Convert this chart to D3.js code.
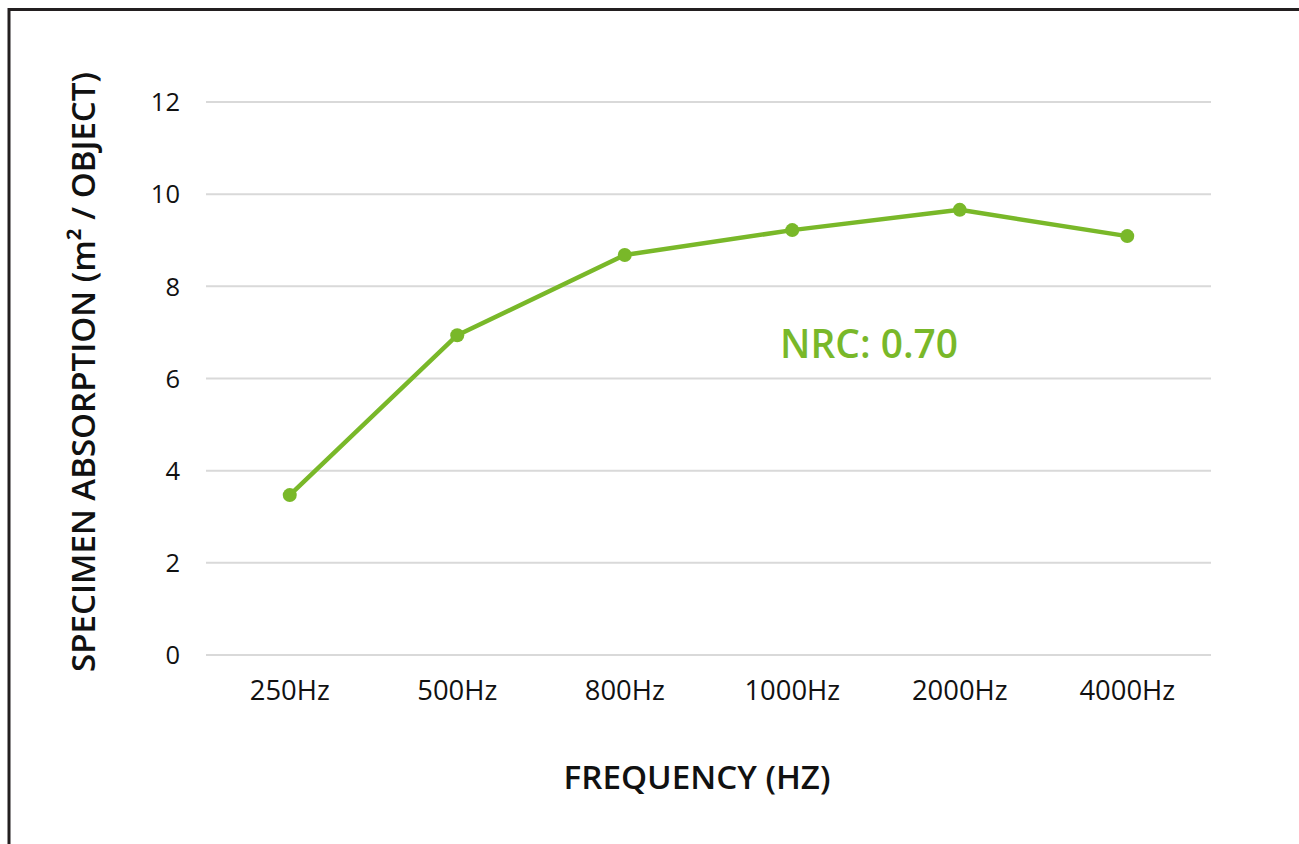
<!DOCTYPE html>
<html>
<head>
<meta charset="utf-8">
<script src="https://cdn.jsdelivr.net/npm/d3@7"></script>
<style>
  html, body { margin: 0; padding: 0; background: #fff; }
  svg { display: block; }
  text { font-family: "Open Sans", "Noto Sans", sans-serif; }
</style>
</head>
<body>
<svg id="chart" width="1299" height="844"></svg>
<script>
const categories = ["250Hz", "500Hz", "800Hz", "1000Hz", "2000Hz", "4000Hz"];
const absorption = [3.47, 6.94, 8.68, 9.22, 9.66, 9.09];
const yTicks = [0, 2, 4, 6, 8, 10, 12];
const nrcLabel = "NRC: 0.70";
const xTitle = "FREQUENCY (HZ)";
const yTitle = "SPECIMEN ABSORPTION (m² / OBJECT)";

(function () {
const green = "#79b829";
const FONT = "'Open Sans', 'Noto Sans', sans-serif";
const svg = d3.select("#chart");

// scale a text's font-size so its rendered width matches a target width
function fitWidth(sel, target) {
  sel.each(function () {
    const n = d3.select(this);
    n.attr("font-size", 100);
    const L = this.getComputedTextLength();
    n.attr("font-size", (100 * target / L).toFixed(2));
  });
}

// frame
svg.append("path")
  .attr("d", "M9,844 L9,9.5 L1299,9.5")
  .attr("fill", "none")
  .attr("stroke", "#231f20")
  .attr("stroke-width", 3);

const pLeft = 206, pRight = 1211, pTop = 102, pBottom = 655;

const x = d3.scaleBand().domain(categories).range([pLeft, pRight]);
const y = d3.scaleLinear().domain([0, 12]).range([pBottom, pTop]);

// gridlines
svg.append("g").selectAll("line").data(yTicks).join("line")
  .attr("x1", pLeft).attr("x2", pRight)
  .attr("y1", d => y(d)).attr("y2", d => y(d))
  .attr("stroke", "#d9d9d9").attr("stroke-width", 2);

// y axis labels
const yAxis = svg.append("g").attr("transform", `translate(${pLeft},0)`)
  .call(d3.axisLeft(y).tickValues(yTicks).tickSize(0).tickPadding(26));
yAxis.select(".domain").remove();
yAxis.selectAll("text")
  .attr("font-family", FONT).attr("font-size", 25.5).attr("fill", "#111")
  .attr("dy", "0.34em");

// x axis labels
const xAxis = svg.append("g").attr("transform", `translate(0,${pBottom})`)
  .call(d3.axisBottom(x).tickSize(0).tickPadding(0));
xAxis.select(".domain").remove();
xAxis.selectAll("text")
  .attr("font-family", FONT).attr("fill", "#111")
  .attr("dy", null).attr("y", 45);
fitWidth(xAxis.selectAll("text").filter(d => d === "250Hz"), 80);
const xfs = xAxis.selectAll("text").filter(d => d === "250Hz").attr("font-size");
xAxis.selectAll("text").attr("font-size", xfs);

// line
const cx = d => x(d.c) + x.bandwidth() / 2;
const data = categories.map((c, i) => ({ c, v: absorption[i] }));
svg.append("path").datum(data)
  .attr("fill", "none").attr("stroke", green).attr("stroke-width", 4.5)
  .attr("stroke-linejoin", "round")
  .attr("d", d3.line().x(cx).y(d => y(d.v)));
svg.append("g").selectAll("circle").data(data).join("circle")
  .attr("cx", cx).attr("cy", d => y(d.v)).attr("r", 7).attr("fill", green);

// NRC label
const nrc = svg.append("text").attr("x", 780).attr("y", 358)
  .attr("font-family", FONT).attr("font-weight", 600).attr("fill", green)
  .text(nrcLabel);
fitWidth(nrc, 178);

// axis titles
const xt = svg.append("text").attr("x", 697).attr("y", 789)
  .attr("text-anchor", "middle").attr("font-family", FONT).attr("font-weight", 600)
  .attr("fill", "#111").text(xTitle);
fitWidth(xt, 267);

const yt = svg.append("text")
  .attr("transform", `translate(95,372) rotate(-90)`)
  .attr("text-anchor", "middle").attr("font-family", FONT).attr("font-weight", 600)
  .attr("fill", "#111").text(yTitle);
fitWidth(yt, 600);
})();
</script>
</body>
</html>
